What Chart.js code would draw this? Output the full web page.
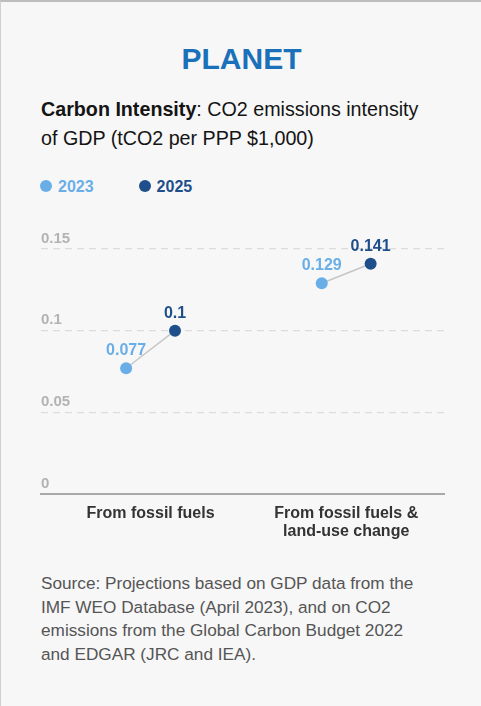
<!DOCTYPE html>
<html>
<head>
<meta charset="utf-8">
<script src="https://cdn.jsdelivr.net/npm/chart.js"></script>
<style>
  html, body { margin: 0; padding: 0; }
  body {
    width: 481px; height: 706px; position: relative; overflow: hidden;
    background: #f7f7f7; box-sizing: border-box;
    border-top: 2px solid #bdbdbd; border-left: 1px solid #d0d0d0;
    font-family: "Liberation Sans", Arial, Helvetica, sans-serif;
  }
  .abs { position: absolute; }
  #title { top: 38px; left: 0; width: 481px; text-align: center; font-size: 30px; line-height: 38px; font-weight: bold; color: #1a70b9; }
  #subtitle { top: 93px; left: 40px; width: 440px; font-size: 19.7px; line-height: 28.5px; color: #141414; white-space: nowrap; }
  #legend { top: 175px; left: 39px; font-size: 16px; line-height: 20px; font-weight: bold; }
  #legend span.item { display: inline-block; margin-right: 45px; }
  #legend i { display: inline-block; width: 12px; height: 12px; border-radius: 6px; vertical-align: 0px; margin-right: 6px; }
  #wrap { top: 220px; left: 0; width: 481px; height: 325px; }
  #source { top: 570px; left: 40px; width: 440px; font-size: 17.2px; line-height: 23.7px; color: #555; white-space: nowrap; }
</style>
</head>
<body>
<div id="title" class="abs">PLANET</div>
<div id="subtitle" class="abs"><b>Carbon Intensity</b>: CO2 emissions intensity<br>of GDP (tCO2 per PPP $1,000)</div>
<div id="legend" class="abs"></div>
<div id="wrap" class="abs"><canvas id="chart" width="481" height="325"></canvas></div>
<div id="source" class="abs">Source: Projections based on GDP data from the<br>IMF WEO Database (April 2023), and on CO2<br>emissions from the Global Carbon Budget 2022<br>and EDGAR (JRC and IEA).</div>

<script>
// Data
var categories = ["From fossil fuels", ["From fossil fuels &", "land-use change"]];
var series_names = ["2023", "2025"];
var values_2023 = [0.077, 0.129];
var values_2025 = [0.1, 0.141];
var y_ticks = [0, 0.05, 0.1, 0.15];
var y_tick_labels = ["0", "0.05", "0.1", "0.15"];

// Style
var color_2023 = "#6aaee8";
var color_2025 = "#1f4f8b";
var link_color = "#c6c6c6";
var shift = 0.125; // side offset of each year inside its category

// Legend in html
var legend = document.getElementById("legend");
[color_2023, color_2025].forEach(function (c, i) {
  var el = document.createElement("span");
  el.className = "item";
  el.style.color = c;
  el.innerHTML = "<i style='background:" + c + "'></i>" + series_names[i];
  legend.appendChild(el);
});

function pts(values, dx) {
  return values.map(function (v, i) { return { x: i + dx, y: v }; });
}

var datasets = [
  { label: series_names[0], type: "scatter", data: pts(values_2023, -shift), backgroundColor: color_2023,
    pointRadius: 6, borderWidth: 0, order: 0, valueColor: color_2023 },
  { label: series_names[1], type: "scatter", data: pts(values_2025, shift), backgroundColor: color_2025,
    pointRadius: 6, borderWidth: 0, order: 0, valueColor: color_2025 }
];
// gray link between the two years of each category
categories.forEach(function (c, i) {
  datasets.push({
    type: "line", data: [{ x: i - shift, y: values_2023[i] }, { x: i + shift, y: values_2025[i] }],
    borderColor: link_color, borderWidth: 1.5, pointRadius: 0, order: 2
  });
});

// Value labels above points
var valueLabels = {
  id: "valueLabels",
  afterDatasetsDraw: function (chart) {
    var ctx = chart.ctx;
    ctx.save();
    ctx.font = "bold 16px 'Liberation Sans', Arial, sans-serif";
    ctx.textAlign = "center";
    ctx.textBaseline = "middle";
    chart.data.datasets.forEach(function (ds, di) {
      if (!ds.valueColor) return;
      var meta = chart.getDatasetMeta(di);
      ctx.fillStyle = ds.valueColor;
      meta.data.forEach(function (el, j) {
        ctx.fillText(String(ds.data[j].y), el.x, el.y - 17.5);
      });
    });
    ctx.restore();
  }
};

Chart.defaults.font.family = "'Liberation Sans', Arial, Helvetica, sans-serif";

new Chart(document.getElementById("chart"), {
  type: "scatter",
  data: { datasets: datasets },
  options: {
    responsive: false,
    animation: false,
    events: [],
    layout: { padding: { left: 40, right: 38, top: 27, bottom: 3 } },
    plugins: { legend: { display: false }, tooltip: { enabled: false } },
    scales: {
      x: {
        type: "linear",
        min: -0.56, max: 1.5,
        afterBuildTicks: function (s) { s.ticks = categories.map(function (c, i) { return { value: i }; }); },
        afterFit: function (s) { s.height = 50; },
        grid: { display: false, drawTicks: false },
        border: { display: true, color: "#a9a9a9", width: 2 },
        ticks: {
          padding: 11, maxRotation: 0, autoSkip: false,
          color: "#333333", font: { size: 16, weight: "bold", lineHeight: 1.125 },
          callback: function (v) { return categories[v]; }
        }
      },
      y: {
        min: 0, max: 0.15,
        afterBuildTicks: function (s) { s.ticks = y_ticks.map(function (v) { return { value: v }; }); },
        afterFit: function (s) { s.width = 0; },
        grid: {
          drawTicks: false, lineWidth: 1.2, borderDash: [7, 5],
          color: function (c) { return c.tick && c.tick.value === 0 ? "rgba(0,0,0,0)" : "#dcdcdc"; }
        },
        border: { display: false, dash: [7, 5] },
        ticks: {
          mirror: true, padding: 0, labelOffset: -10.5,
          color: "#b3b3b3", font: { size: 15, weight: "bold" },
          callback: function (v) { return y_tick_labels[y_ticks.indexOf(v)]; }
        }
      }
    }
  },
  plugins: [valueLabels]
});
</script>
</body>
</html>
